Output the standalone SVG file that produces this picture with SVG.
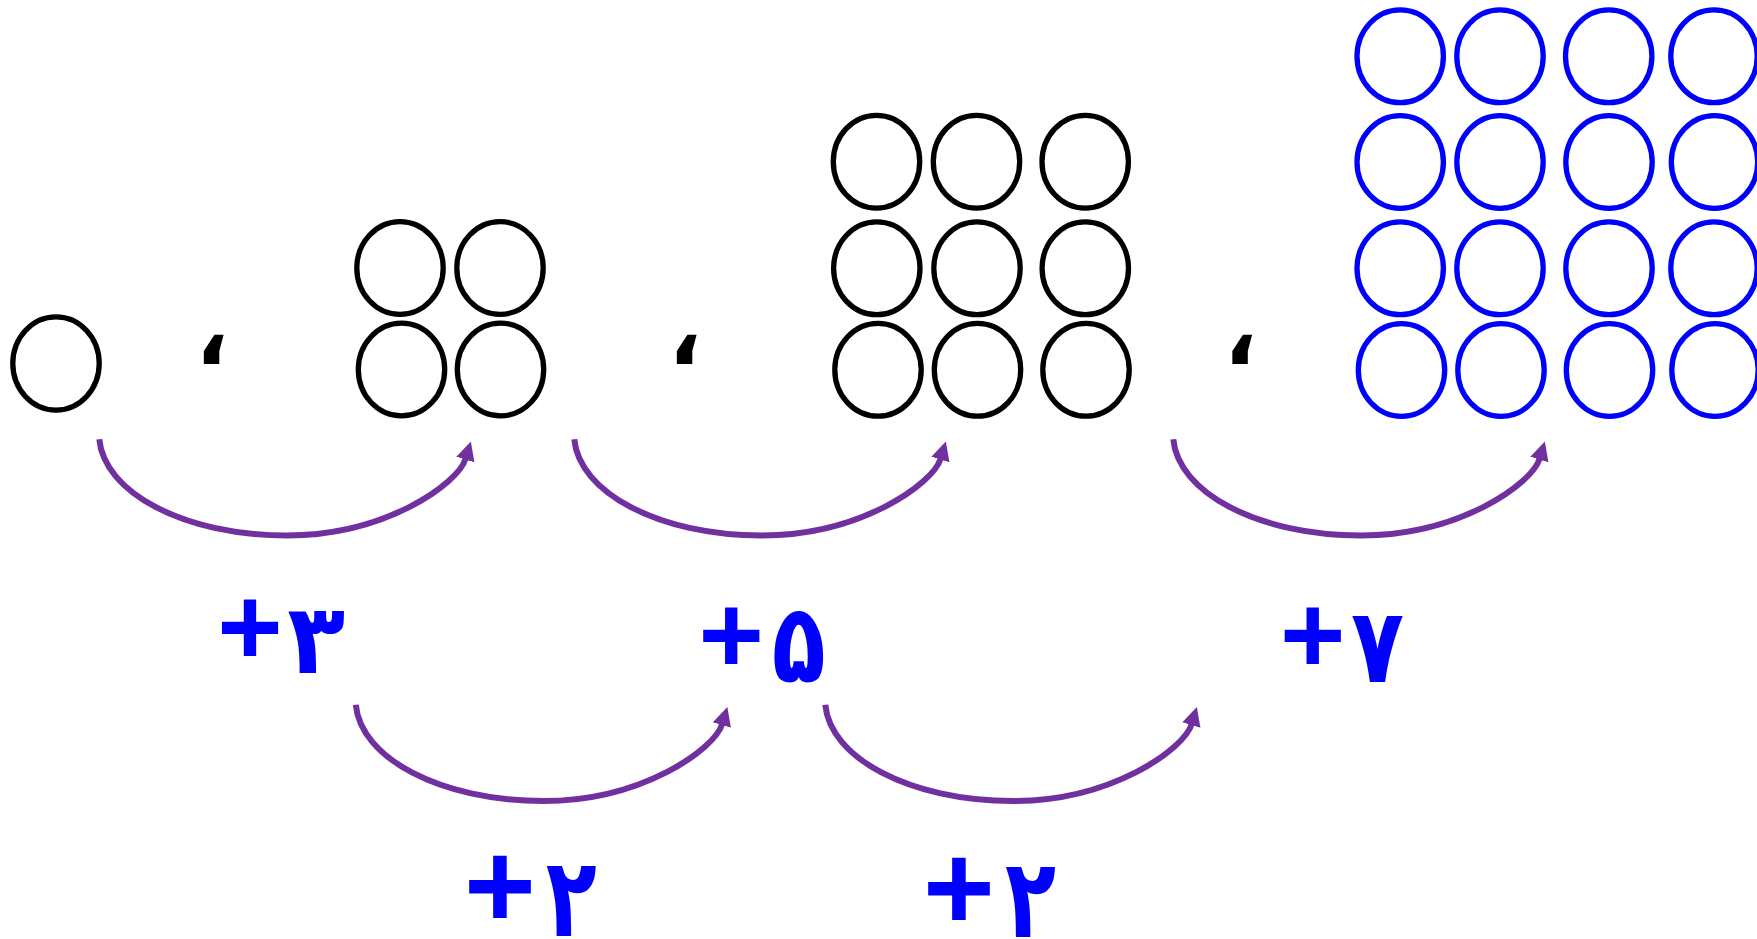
<svg xmlns="http://www.w3.org/2000/svg" width="1757" height="939" viewBox="0 0 1757 939">
<style>
.c{fill:none;stroke:#000;stroke-width:5.3}
.b{fill:none;stroke:#0000FF;stroke-width:5.3}
.arr{fill:none;stroke:#7030A0;stroke-width:6;marker-end:url(#ah)}
.pl{font-family:"Liberation Sans",Arial,sans-serif;font-weight:bold;fill:#0000FF}
.dg{font-family:"DejaVu Sans",sans-serif;font-weight:bold;fill:#0000FF}
.cm{font-family:"DejaVu Sans",sans-serif;font-weight:bold;font-size:88px;fill:#000}
</style>
<defs>
<marker id="ah" markerUnits="userSpaceOnUse" markerWidth="20" markerHeight="20" viewBox="0 -9 18 18" refX="1" refY="0" orient="auto">
<path d="M0,-8.5 L17,0 L0,8.5 Z" fill="#7030A0"/>
</marker>
</defs>
<rect width="1757" height="939" fill="#fff"/>
<g id="fig-1">
<ellipse class="c" cx="56" cy="363.5" rx="43.2" ry="46.6"/>
</g>
<g id="sep-1"><text class="cm" x="212" y="364" text-anchor="middle">،</text></g>
<g id="fig-4">
<ellipse class="c" cx="400" cy="268" rx="43.2" ry="46.4"/>
<ellipse class="c" cx="500" cy="268" rx="43.2" ry="46.4"/>
<ellipse class="c" cx="401.5" cy="369.5" rx="43.2" ry="46.4"/>
<ellipse class="c" cx="500.5" cy="369.5" rx="43.2" ry="46.4"/>
</g>
<g id="sep-2"><text class="cm" x="685" y="364" text-anchor="middle">،</text></g>
<g id="fig-9">
<ellipse class="c" cx="876.5" cy="161.7" rx="43.2" ry="46.4"/>
<ellipse class="c" cx="976.5" cy="161.7" rx="43.2" ry="46.4"/>
<ellipse class="c" cx="1085.2" cy="161.7" rx="43.2" ry="46.4"/>
<ellipse class="c" cx="876.8" cy="268.3" rx="43.2" ry="46.4"/>
<ellipse class="c" cx="977" cy="268.3" rx="43.2" ry="46.4"/>
<ellipse class="c" cx="1085.3" cy="268.3" rx="43.2" ry="46.4"/>
<ellipse class="c" cx="878" cy="369.8" rx="43.2" ry="46.4"/>
<ellipse class="c" cx="977.5" cy="369.8" rx="43.2" ry="46.4"/>
<ellipse class="c" cx="1086" cy="369.8" rx="43.2" ry="46.4"/>
</g>
<g id="sep-3"><text class="cm" x="1240.5" y="364" text-anchor="middle">،</text></g>
<g id="fig-16">
<ellipse class="b" cx="1400.2" cy="56.3" rx="43.2" ry="46.4"/>
<ellipse class="b" cx="1500" cy="56.3" rx="43.2" ry="46.4"/>
<ellipse class="b" cx="1608.7" cy="56.3" rx="43.2" ry="46.4"/>
<ellipse class="b" cx="1714" cy="56.3" rx="43.2" ry="46.4"/>
<ellipse class="b" cx="1400.2" cy="162" rx="43.2" ry="46.4"/>
<ellipse class="b" cx="1500" cy="162" rx="43.2" ry="46.4"/>
<ellipse class="b" cx="1609" cy="162" rx="43.2" ry="46.4"/>
<ellipse class="b" cx="1714.5" cy="162" rx="43.2" ry="46.4"/>
<ellipse class="b" cx="1400.2" cy="268.3" rx="43.2" ry="46.4"/>
<ellipse class="b" cx="1500" cy="268.3" rx="43.2" ry="46.4"/>
<ellipse class="b" cx="1609" cy="268.3" rx="43.2" ry="46.4"/>
<ellipse class="b" cx="1714" cy="268.3" rx="43.2" ry="46.4"/>
<ellipse class="b" cx="1401.5" cy="370" rx="43.2" ry="46.4"/>
<ellipse class="b" cx="1501" cy="370" rx="43.2" ry="46.4"/>
<ellipse class="b" cx="1609.5" cy="370" rx="43.2" ry="46.4"/>
<ellipse class="b" cx="1715" cy="370" rx="43.2" ry="46.4"/>
</g>
<g id="connectors">
<path class="arr" d="M99.3,439.3 C104,492 183,535.5 287,535.5 C385,535.5 458,484 465.7,458.5"/>
<path class="arr" d="M574.3,439.3 C579,492 658,535.5 762,535.5 C860,535.5 933,484 940.7,458.5"/>
<path class="arr" d="M1173.3,439.3 C1178,492 1257,535.5 1361,535.5 C1459,535.5 1532,484 1539.7,458.5"/>
<path class="arr" d="M355.8,704.8 C360.5,757.5 439.5,801 543.5,801 C641.5,801 714.5,749.5 722.2,724"/>
<path class="arr" d="M825.3,704.8 C830,757.5 909,801 1013,801 C1111,801 1184,749.5 1191.7,724"/>
</g>
<g id="label-3"><text><tspan class="pl" font-size="112" x="250" y="665" text-anchor="middle">+</tspan><tspan class="dg" font-size="97" x="287.3" y="673" textLength="58" lengthAdjust="spacingAndGlyphs">۳</tspan></text></g>
<g id="label-5"><text><tspan class="pl" font-size="112" x="731.3" y="673" text-anchor="middle">+</tspan><tspan class="dg" font-size="110" x="771.7" y="682" textLength="54" lengthAdjust="spacingAndGlyphs">۵</tspan></text></g>
<g id="label-7"><text><tspan class="pl" font-size="112" x="1312.7" y="673" text-anchor="middle">+</tspan><tspan class="dg" font-size="104" x="1351" y="682" textLength="53" lengthAdjust="spacingAndGlyphs">۷</tspan></text></g>
<g id="label-2a"><text><tspan class="pl" font-size="123" x="500" y="928" text-anchor="middle">+</tspan><tspan class="dg" font-size="110" x="545.7" y="936" textLength="51" lengthAdjust="spacingAndGlyphs">۲</tspan></text></g>
<g id="label-2b"><text><tspan class="pl" font-size="123" x="959" y="930" text-anchor="middle">+</tspan><tspan class="dg" font-size="110" x="1005" y="937" textLength="51" lengthAdjust="spacingAndGlyphs">۲</tspan></text></g>
</svg>
